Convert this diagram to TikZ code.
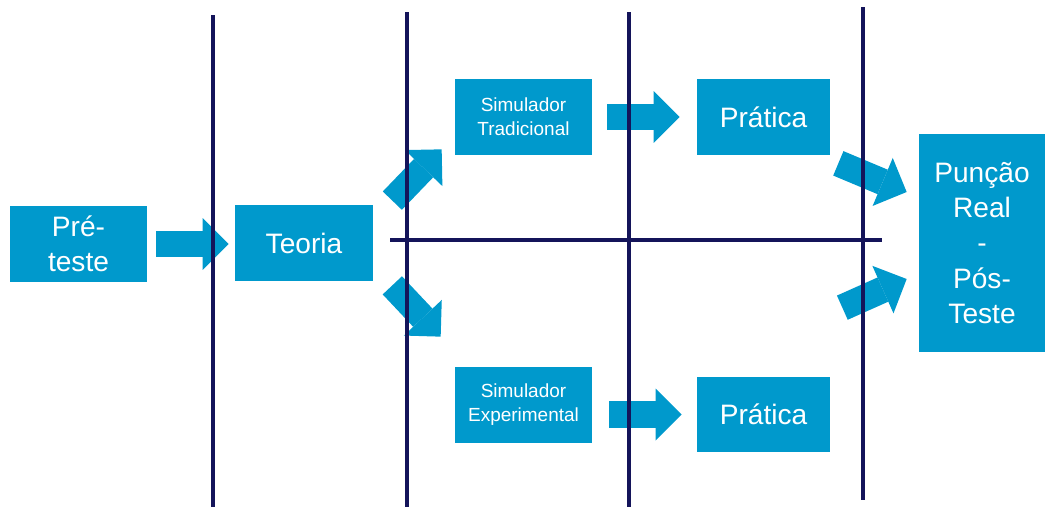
\documentclass[tikz,border=0pt]{standalone}
\usepackage{fontspec}
\setmainfont{Liberation Sans}
\usepackage{tikz}
\usetikzlibrary{arrows.meta, positioning, calc}
\definecolor{BoxBlue}{HTML}{0099CC}
\definecolor{LineNavy}{HTML}{14145A}

\begin{document}
\begin{tikzpicture}[x=0.02cm, y=0.02cm,
    bigbox/.style={fill=BoxBlue, text=white, align=center, inner sep=0pt,
        font=\fontsize{16}{20}\selectfont},
    smallbox/.style={bigbox, font=\fontsize{10.8}{13.6}\selectfont},
    blockarrow/.style={draw=BoxBlue, line width=0.53cm,
        -{Triangle[width=1.04cm, length=0.52cm, line width=0pt]}},
    divider/.style={draw=LineNavy, line width=1.9pt}]
    \useasboundingbox (0,0) rectangle (1048,-507);

    \node[bigbox, minimum width=2.74cm, minimum height=1.52cm] (pre) at (78.5,-244) {Pré-\\teste};
    \node[bigbox, minimum width=2.76cm, minimum height=1.52cm] (teoria) at (304,-243) {Teoria};
    \node[smallbox, minimum width=2.74cm, minimum height=1.52cm] (simtrad) at (523.5,-117) {Simulador\\Tradicional};
    \node[bigbox, minimum width=2.66cm, minimum height=1.52cm] (prat1) at (763.5,-117) {Prática};
    \node[smallbox, minimum width=2.74cm, minimum height=1.52cm] (simexp) at (523.5,-405) {Simulador\\Experimental};
    \node[bigbox, minimum width=2.66cm, minimum height=1.50cm] (prat2) at (763.5,-414.5) {Prática};
    \node[bigbox, minimum width=2.52cm, minimum height=4.36cm] (puncao) at (982,-243) {Punção\\Real\\-\\Pós-\\Teste};

    % block arrows
    \draw[blockarrow, shorten <=0.18cm, shorten >=0.12cm] (pre.east) -- (pre.east -| teoria.west);
    \draw[blockarrow] ($(teoria.north east)+(19,4)$) -- ($(simtrad.south west)+(-13,6)$);
    \draw[blockarrow] ($(teoria.south east)+(19,-4)$) -- ($(simexp.north west)+(-14,30)$);
    \draw[blockarrow, shorten <=0.3cm, shorten >=0.34cm] (simtrad) -- (prat1);
    \draw[blockarrow, shorten <=0.34cm, shorten >=0.3cm] (simexp.east |- prat2.west) -- (prat2.west);
    \draw[blockarrow] ($(prat1.south east)+(8,-8)$) -- ($(puncao.west)+(-12,51)$);
    \draw[blockarrow] ($(prat2.north east)+(12,69)$) -- ($(puncao.west)+(-12,-36)$);

    % phase lines
    \draw[divider] (213,-15) -- (213,-507);
    \draw[divider] (407,-12) -- (407,-507);
    \draw[divider] (629,-12) -- (629,-507);
    \draw[divider] (863,-7) -- (863,-500);
    \draw[divider] (390,-240) -- (882,-240);
\end{tikzpicture}
\end{document}
